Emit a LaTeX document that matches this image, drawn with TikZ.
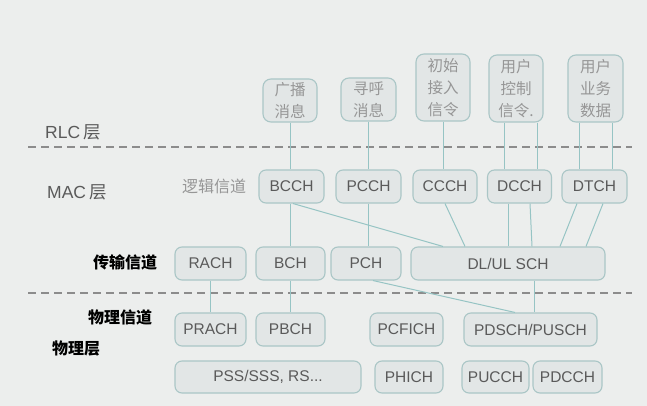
\documentclass[tikz,border=0pt]{standalone}
\usepackage{fontspec}
\setmainfont{Liberation Sans}
\newfontfamily\cjk{Noto Sans CJK SC}
\begin{document}
\definecolor{bg}{RGB}{236,238,237}
\definecolor{boxfill}{RGB}{226,230,230}
\definecolor{boxline}{RGB}{170,198,198}
\definecolor{wire}{RGB}{150,196,196}
\definecolor{txt}{RGB}{90,90,90}
\definecolor{ctxt}{RGB}{150,150,150}
\definecolor{dash}{RGB}{140,140,140}
\begin{tikzpicture}[x=1pt,y=-1pt,
  chan/.style={draw=boxline, fill=boxfill, line width=1.1pt, rounded corners=7pt,
    inner sep=0pt, minimum height=33pt, font=\fontsize{15.5}{15.5}\selectfont, text=txt},
  msg/.style={draw=boxline, fill=boxfill, line width=1.1pt, rounded corners=8pt,
    inner sep=0pt, minimum width=54pt, align=center,
    font=\cjk\fontsize{15.5}{22}\selectfont, text=ctxt},
  conn/.style={draw=wire, line width=1pt},
  sep/.style={draw=dash, line width=1.4pt, dash pattern=on 8pt off 5pt},
  layer/.style={font=\fontsize{17.5}{17.5}\selectfont, text=txt, anchor=west, inner sep=0pt},
  blabel/.style={font=\cjk\bfseries\fontsize{16}{16}\selectfont, text=black, inner sep=0pt}
]
\useasboundingbox (0,0) rectangle (647,406);
\fill[bg] (0,0) rectangle (647,406);

% separators
\draw[sep] (28,147) -- (632,147);
\draw[sep] (28,293) -- (632,293);

% layer labels
\node[layer] (rlc) at (45,132) {RLC\,{\cjk 层}};
\node[layer] (mac) at (47,192) {MAC\,{\cjk 层}};
\node[font=\cjk\fontsize{16}{16}\selectfont, text=ctxt, inner sep=0pt] (logic) at (214,186) {逻辑信道};
\node[blabel] (trans) at (125,262) {传输信道};
\node[blabel] (phych) at (120,317) {物理信道};
\node[blabel] (phyl) at (76,349) {物理层};

% RLC messages
\node[msg, minimum height=43pt] (m1) at (290,100.5) {广播\\消息};
\node[msg, minimum height=43pt, minimum width=55pt] (m2) at (368.5,99.5) {寻呼\\消息};
\node[msg, minimum height=67pt] (m3) at (443,87.5) {初始\\接入\\信令};
\node[msg, minimum height=67pt] (m4) at (516,88.5) {用户\\控制\\信令.};
\node[msg, minimum height=67pt, minimum width=55pt] (m5) at (595.5,88.5) {用户\\业务\\数据};

% logical channels
\node[chan, minimum width=65pt] (bcch) at (291.5,186.5) {BCCH};
\node[chan, minimum width=65pt] (pcch) at (368.5,186.5) {PCCH};
\node[chan, minimum width=64pt] (ccch) at (445,186.5) {CCCH};
\node[chan, minimum width=64pt] (dcch) at (519.5,186.5) {DCCH};
\node[chan, minimum width=65pt] (dtch) at (594.5,186.5) {DTCH};

% transport channels
\node[chan, minimum width=71pt] (rach) at (210.5,263.5) {RACH};
\node[chan, minimum width=69pt] (bch) at (290.5,263.5) {BCH};
\node[chan, minimum width=70pt] (pch) at (366,263.5) {PCH};
\node[chan, minimum width=194pt] (sch) at (508,263.5) {DL/UL SCH};

% physical channels
\node[chan, minimum width=71pt] (prach) at (210.5,329.5) {PRACH};
\node[chan, minimum width=69pt] (pbch) at (290.5,329.5) {PBCH};
\node[chan, minimum width=73pt] (pcfich) at (406.5,329.5) {PCFICH};
\node[chan, minimum width=133pt] (pdsch) at (530.5,329.5) {PDSCH/PUSCH};

\node[chan, minimum width=186pt, minimum height=32pt] (pss) at (268,377) {PSS/SSS, RS...};
\node[chan, minimum width=68pt, minimum height=32pt] (phich) at (409,377) {PHICH};
\node[chan, minimum width=67pt, minimum height=32pt] (pucch) at (495.5,377) {PUCCH};
\node[chan, minimum width=69pt, minimum height=32pt] (pdcch) at (567.5,377) {PDCCH};

% connectors RLC -> MAC
\draw[conn] (m1.south) -- (m1.south |- bcch.north);
\draw[conn] (m2.south) -- (m2.south |- pcch.north);
\draw[conn] (m3.south) -- (m3.south |- ccch.north);
\draw[conn] ([xshift=-12pt]m4.south) -- ([xshift=-12pt]m4.south |- dcch.north);
\draw[conn] ([xshift=21pt]m4.south) -- ([xshift=21pt]m4.south |- dcch.north);
\draw[conn] ([xshift=-16.5pt]m5.south) -- ([xshift=-16.5pt]m5.south |- dtch.north);
\draw[conn] ([xshift=16.5pt]m5.south) -- ([xshift=16.5pt]m5.south |- dtch.north);

% MAC -> transport
\draw[conn] ([xshift=-1pt]bcch.south) -- (bch.north);
\draw[conn] ([xshift=1.5pt]bcch.south) -- ([xshift=-65pt]sch.north);
\draw[conn] (pcch.south) -- ([xshift=2.5pt]pch.north);
\draw[conn] (ccch.south) -- ([xshift=-43pt]sch.north);
\draw[conn] ([xshift=-11.5pt]dcch.south) -- ([xshift=0pt]sch.north);
\draw[conn] ([xshift=10.5pt]dcch.south) -- ([xshift=24pt]sch.north);
\draw[conn] ([xshift=-17.5pt]dtch.south) -- ([xshift=52pt]sch.north);
\draw[conn] ([xshift=8.5pt]dtch.south) -- ([xshift=78pt]sch.north);

% transport -> physical
\draw[conn] (rach.south) -- (prach.north);
\draw[conn] (bch.south) -- (pbch.north);
\draw[conn] ([xshift=7pt]pch.south) -- ([xshift=-15.5pt]pdsch.north);
\draw[conn] ([xshift=26pt]sch.south) -- ([xshift=3.5pt]pdsch.north);
\end{tikzpicture}
\end{document}
